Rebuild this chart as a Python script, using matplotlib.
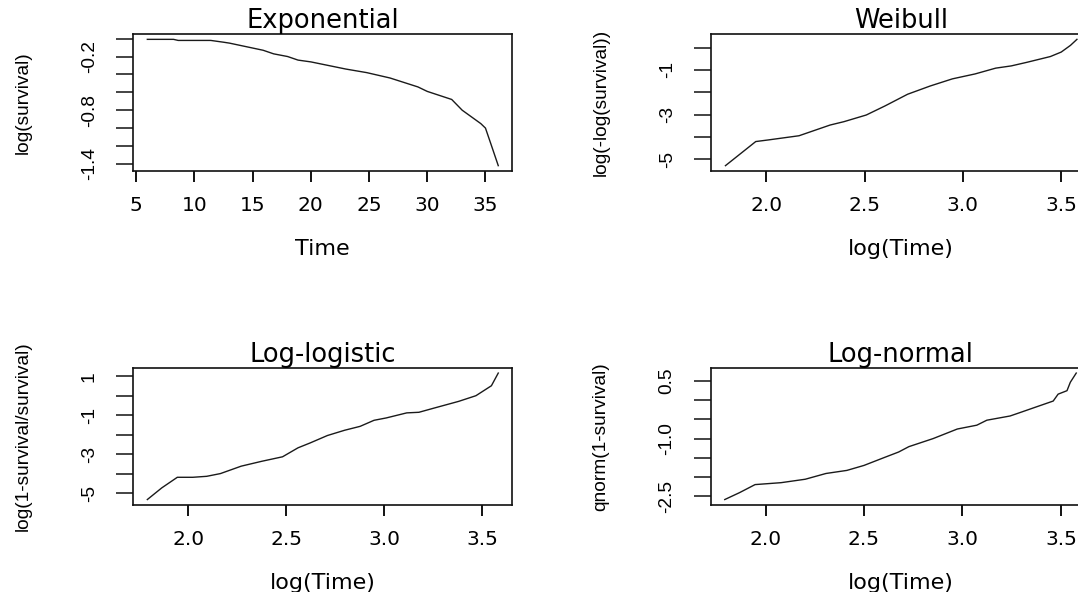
"""Four survival-model diagnostic plots (exponential, Weibull, log-logistic, log-normal)."""

import matplotlib
matplotlib.use("Agg")
import matplotlib.pyplot as plt

# ---- data -------------------------------------------------------------------
exp_time = [5.95, 8.2, 8.6, 11.4, 12.5, 13.0, 15.9, 16.8, 18.0, 18.9, 20.0,
            23.0, 24.8, 26.8, 29.2, 30.0, 32.1, 33.0, 34.6, 35.0, 35.5, 36.1]
exp_logsurv = [-0.008, -0.008, -0.02, -0.02, -0.04, -0.05, -0.13, -0.17, -0.20,
               -0.24, -0.26, -0.34, -0.38, -0.44, -0.54, -0.59, -0.68, -0.80,
               -0.95, -1.00, -1.19, -1.42]

wei_logtime = [1.793, 1.947, 2.009, 2.167, 2.325, 2.395, 2.509, 2.605, 2.719,
               2.834, 2.947, 3.062, 3.167, 3.246, 3.325, 3.445, 3.50, 3.547, 3.58]
wei_y = [-5.29, -4.21, -4.14, -3.95, -3.47, -3.32, -3.02, -2.61, -2.09,
         -1.72, -1.40, -1.18, -0.92, -0.82, -0.66, -0.40, -0.20, 0.10, 0.37]

llog_logtime = [1.791, 1.865, 1.944, 2.023, 2.094, 2.164, 2.27, 2.375, 2.481,
                2.56, 2.622, 2.71, 2.798, 2.877, 2.948, 3.01, 3.115, 3.177,
                3.256, 3.38, 3.468, 3.547, 3.582]
llog_y = [-5.31, -4.71, -4.17, -4.17, -4.12, -3.98, -3.60, -3.35, -3.12,
          -2.66, -2.41, -2.03, -1.76, -1.56, -1.25, -1.13, -0.87, -0.84,
          -0.62, -0.28, 0.01, 0.52, 1.17]

lnorm_logtime = [1.793, 1.868, 1.947, 2.079, 2.202, 2.307, 2.413, 2.5, 2.605,
                 2.676, 2.728, 2.851, 2.974, 3.073, 3.124, 3.242, 3.293, 3.36,
                 3.461, 3.486, 3.531, 3.548, 3.578]
lnorm_y = [-2.59, -2.41, -2.20, -2.15, -2.06, -1.91, -1.83, -1.70, -1.49,
           -1.35, -1.21, -1.00, -0.75, -0.65, -0.52, -0.41, -0.32, -0.20,
           -0.02, 0.16, 0.25, 0.47, 0.71]

titles = ["Exponential", "Weibull", "Log-logistic", "Log-normal"]
xlabels = ["Time", "log(Time)", "log(Time)", "log(Time)"]
ylabels = ["log(survival)", "log(-log(survival))",
           "log(1-survival/survival)", "qnorm(1-survival)"]

exp_xticks = [5, 10, 15, 20, 25, 30, 35]
log_xticks = [2.0, 2.5, 3.0, 3.5]
log_xticklabels = ["2.0", "2.5", "3.0", "3.5"]

exp_yticks = [0.0, -0.2, -0.4, -0.6, -0.8, -1.0, -1.2, -1.4]
exp_yticklabels = ["", "-0.2", "", "", "-0.8", "", "", "-1.4"]
wei_yticks = [0, -1, -2, -3, -4, -5]
wei_yticklabels = ["", "-1", "", "-3", "", "-5"]
llog_yticks = [1, 0, -1, -2, -3, -4, -5]
llog_yticklabels = ["1", "", "-1", "", "-3", "", "-5"]
lnorm_yticks = [0.5, 0.0, -0.5, -1.0, -1.5, -2.0, -2.5]
lnorm_yticklabels = ["0.5", "", "", "-1.0", "", "", "-2.5"]

# ---- layout -----------------------------------------------------------------
W, H = 1078, 592
plt.rcParams["font.family"] = ["DejaVu Sans"]
ROT_FONT = ["Liberation Sans", "DejaVu Sans"]

fig = plt.figure(figsize=(W / 100, H / 100), dpi=100)
fig.patch.set_facecolor("white")

# axes boxes in pixels: left, top, width, height
boxes = [(133.3, 34.3, 379.0, 136.4),
         (711.4, 34.3, 379.6, 136.4),
         (133.3, 368.0, 379.0, 136.6),
         (710.7, 368.0, 379.6, 136.6)]

series = [(exp_time, exp_logsurv),
          (wei_logtime, wei_y),
          (llog_logtime, llog_y),
          (lnorm_logtime, lnorm_y)]
yticks = [(exp_yticks, exp_yticklabels), (wei_yticks, wei_yticklabels),
          (llog_yticks, llog_yticklabels), (lnorm_yticks, lnorm_yticklabels)]

for i, (left, top, w, h) in enumerate(boxes):
    ax = fig.add_axes([left / W, 1 - (top + h) / H, w / W, h / H])
    x, y = series[i]
    ax.plot(x, y, color="#1a1a1a", lw=1.0)
    ax.margins(x=0.04, y=0.04)

    for sp in ax.spines.values():
        sp.set_linewidth(1.2)
        sp.set_color("#111111")

    if i == 0:
        ax.set_xticks(exp_xticks, labels=[str(v) for v in exp_xticks])
    else:
        ax.set_xticks(log_xticks, labels=log_xticklabels)
    yt, ytl = yticks[i]
    ax.set_yticks(yt, labels=ytl)

    ax.tick_params(axis="x", length=8, width=1.4, pad=10.5, labelsize=14.5,
                   color="#111111")
    ax.tick_params(axis="y", length=12, width=1.1, pad=13.5, color="#111111")
    for lab in ax.get_yticklabels():
        lab.set_rotation(90)
        lab.set_va("center")
        lab.set_family(ROT_FONT)
        lab.set_fontsize(13.8)

    ax.set_title(titles[i], fontsize=18.5, pad=2)
    ax.set_xlabel(xlabels[i], fontsize=16, va="top")
    ax.xaxis.set_label_coords(0.5, -0.50)
    ax.set_ylabel(ylabels[i], fontsize=13.8, va="center", family=ROT_FONT)
    ax.yaxis.set_label_coords(-0.29, 0.5)

fig.savefig("out.png", dpi=100)
